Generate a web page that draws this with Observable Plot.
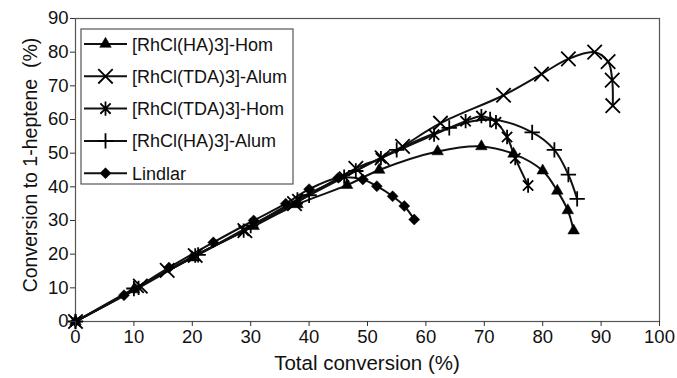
<!DOCTYPE html>
<html><head><meta charset="utf-8">
<script src="https://cdn.jsdelivr.net/npm/d3@7"></script>
<script src="https://cdn.jsdelivr.net/npm/@observablehq/plot@0.6"></script>
<style>
body{margin:0;background:#fff;}
#chart{position:relative;width:677px;height:378px;}
</style></head>
<body><div id="chart"></div>
<script>
const seriesNames = ["[RhCl(HA)3]-Hom","[RhCl(TDA)3]-Alum","[RhCl(TDA)3]-Hom","[RhCl(HA)3]-Alum","Lindlar"];

const haHomX = [0,10,20,30.5,38,46.5,52,62,69.5,75,80,82.5,84.3,85.3];
const haHomY = [0,9.5,19,28.3,34.8,40.5,45,50.5,52,49.8,44.8,38.8,33,27];

const tdaAlumX = [0,11.1,15.7,20.5,29,37.5,48,52.5,56,62.5,73.3,79.8,84.4,88.9,91.2,91.9,92];
const tdaAlumY = [0,10.5,15.2,19.6,27,35,45.5,48.6,52,58.9,67.2,73.5,78,80,77.2,71.7,64.1];

const tdaHomX = [0,10.8,20.5,28.8,38,46,52.3,61.4,66.8,69.5,72,73.9,75.3,77.5];
const tdaHomY = [0,10,19.6,27,36.3,43,48.5,55.5,59.5,61,59.2,54.8,48.5,40.4];

const haAlumX = [0,10,21,30,40,48,55,64,71,78.2,82,84.4,85.9];
const haAlumY = [0,9.8,19.8,28.5,37.5,44.7,51,57.5,60,56.2,51,43.6,36.4];

const lindX = [0,8.3,16,23.6,30.5,36,40,45,49.2,51.6,54.3,56.3,58];
const lindY = [0,7.8,16,23.5,30,35,39.3,42.7,42.2,40.2,37.2,34.3,30.3];

const xTicks = [0,10,20,30,40,50,60,70,80,90,100];
const yTicks = [0,10,20,30,40,50,60,70,80,90];

const squareDiamond = {draw(ctx, size){const h=Math.sqrt(size/2);ctx.moveTo(0,-h);ctx.lineTo(h,0);ctx.lineTo(0,h);ctx.lineTo(-h,0);ctx.closePath();}};
const star = {draw(ctx, size){const h=Math.sqrt(size/Math.PI)*1.05;const d=h*0.72;
  ctx.moveTo(0,-h);ctx.lineTo(0,h);ctx.moveTo(-d,-d);ctx.lineTo(d,d);ctx.moveTo(-d,d);ctx.lineTo(d,-d);}};

const styles = [
  {symbol:"triangle", r:4.3, filled:true},
  {symbol:"times", r:6.6, filled:false},
  {symbol:star, r:6.8, filled:false},
  {symbol:"plus", r:5.0, filled:false},
  {symbol:squareDiamond, r:4.4, filled:true}
];
const xs = [haHomX, tdaAlumX, tdaHomX, haAlumX, lindX];
const ys = [haHomY, tdaAlumY, tdaHomY, haAlumY, lindY];
const data = seriesNames.map((name,i)=>xs[i].map((x,j)=>({series:name,x,y:ys[i][j]})));

const marks = [Plot.frame({stroke:"#555", strokeWidth:1.2})];
data.forEach((d,i)=>{
  marks.push(Plot.line(d,{x:"x",y:"y",curve:"catmull-rom",stroke:"#111",strokeWidth:2}));
});
data.forEach((d,i)=>{
  const s = styles[i];
  marks.push(Plot.dot(d,{x:"x",y:"y",symbol:()=>s.symbol,r:s.r,
    fill:s.filled?"#000":"none",stroke:"#000",strokeWidth:s.filled?0.5:1.8}));
});
marks.push(Plot.axisX({ticks:xTicks,tickSize:5,tickPadding:3,fontSize:18.5,label:null,stroke:"#333"}));
marks.push(Plot.axisY({ticks:yTicks,tickSize:5,tickPadding:2,fontSize:18.5,label:null,stroke:"#333"}));

const chart = Plot.plot({
  width:677, height:378,
  marginLeft:75, marginRight:18, marginTop:18, marginBottom:57,
  x:{domain:[0,100]}, y:{domain:[0,90]},
  symbol:{type:"identity"},
  style:{fontFamily:"'Liberation Sans', Arial, sans-serif", color:"#111", background:"#fff", overflow:"visible"},
  marks
});
document.getElementById("chart").appendChild(chart);

const svg = d3.select(chart);
svg.append("text").attr("x",367).attr("y",370).attr("text-anchor","middle")
  .attr("font-size",20.5).attr("fill","#111").text("Total conversion (%)");
svg.append("text").attr("transform","translate(37,165) rotate(-90)").attr("text-anchor","middle")
  .attr("font-size",19.5).attr("fill","#111").text("Conversion to 1-heptene\u00a0 (%)");

// legend
const lg = svg.append("g").attr("text-anchor","start");
lg.append("rect").attr("x",81).attr("y",29).attr("width",212).attr("height",155)
  .attr("fill","#fff").attr("stroke","#555").attr("stroke-width",1.2);
seriesNames.forEach((name,i)=>{
  const cy = 44 + i*32.3;
  lg.append("line").attr("x1",84).attr("x2",127).attr("y1",cy).attr("y2",cy).attr("stroke","#111").attr("stroke-width",2);
  const s = styles[i];
  const sym = typeof s.symbol === "string" ? d3["symbol"+s.symbol[0].toUpperCase()+s.symbol.slice(1)] : s.symbol;
  lg.append("path").attr("transform",`translate(105.5,${cy})`)
    .attr("d", d3.symbol(sym, Math.PI*s.r*s.r)())
    .attr("fill", s.filled?"#000":"none").attr("stroke","#000").attr("stroke-width", s.filled?0.5:1.8);
  lg.append("text").attr("x",132).attr("y",cy+6.5).attr("text-anchor","start").attr("font-size",18).attr("fill","#111").text(name);
});
</script></body></html>
